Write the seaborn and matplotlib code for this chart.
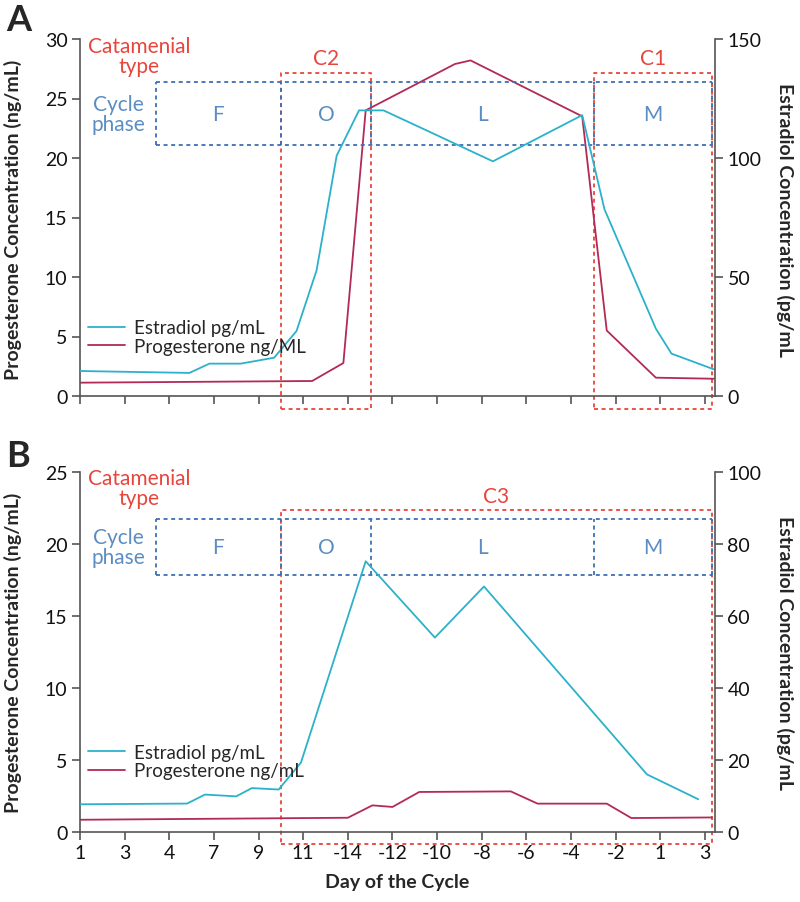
import matplotlib
matplotlib.use("Agg")
import matplotlib.pyplot as plt
import seaborn as sns

# Style
sns.set_style("ticks")
plt.rcParams['font.family'] = ['Lato', 'DejaVu Sans']

# ---- data (x = position along the cycle in days, 0 = day 1) ----
tick_pos = list(range(0, 29, 2))
tick_labels_b = ['1', '3', '4', '7', '9', '11', '-14', '-12', '-10', '-8', '-6', '-4', '-2', '1', '3']

# Panel A
a_estr_x = [0, 4.9, 5.8, 7.2, 8.7, 9.7, 10.6, 11.5, 12.5, 13.6, 18.5, 22.5, 23.5, 25.8, 26.5, 28.4]
a_estr_y = [10.5, 9.7, 13.6, 13.6, 16.1, 27.3, 52.8, 101, 120, 120, 98.6, 118, 78.4, 28.3, 17.8, 11.2]
a_prog_x = [0, 10.4, 11.8, 12.8, 16.8, 17.5, 22.5, 23.6, 25.8, 28.4]
a_prog_y = [1.12, 1.26, 2.77, 24.0, 27.9, 28.2, 23.5, 5.5, 1.54, 1.45]

# Panel B
b_estr_x = [0, 4.8, 5.6, 7.0, 7.7, 8.9, 9.9, 12.8, 15.9, 18.1, 25.4, 27.7]
b_estr_y = [7.7, 7.9, 10.4, 9.9, 12.2, 11.8, 19.3, 75.2, 54.0, 68.2, 16.0, 9.1]
b_prog_x = [0, 12.0, 13.1, 14.0, 15.2, 19.3, 20.5, 23.6, 24.7, 28.3]
b_prog_y = [0.85, 0.99, 1.85, 1.74, 2.78, 2.82, 1.97, 1.97, 0.97, 1.01]

# Cycle phases (boundaries in days)
phase_names = ['F', 'O', 'L', 'M']
phase_edges = [3.4, 9.0, 13.05, 23.05, 28.3]

CYAN = '#2cb1cb'
MAGENTA = '#b22a55'
RED = '#e8453c'
BLUE = '#3d6fb3'
BLUE_TXT = '#5b8dc2'
AXC = '#555555'

fig = plt.figure(figsize=(8, 9.03), dpi=100)
XMAX = 28.45


def draw_panel(rect, ex, ey, px, py, pmax, emax, ptick, etick, prog_label,
               box_y, cat_boxes, cat_y, leg_y, tick_labels):
    ax = fig.add_axes(rect)
    ax2 = ax.twinx()

    sns.lineplot(x=px, y=py, ax=ax, color=MAGENTA, lw=1.3, sort=False, label=prog_label, legend=False)
    sns.lineplot(x=ex, y=ey, ax=ax2, color=CYAN, lw=1.3, sort=False, label='Estradiol pg/mL', legend=False)

    ax.set_xlim(0, XMAX)
    ax.set_ylim(0, pmax)
    ax2.set_ylim(0, emax)
    ax.set_yticks(ptick)
    ax2.set_yticks(etick)
    ax.set_xticks(tick_pos)
    if tick_labels is None:
        ax.set_xticklabels([])
    else:
        ax.set_xticklabels(tick_labels)
    ax.set_xlabel('')
    ax.set_ylabel('')
    ax2.set_ylabel('')

    for a in (ax, ax2):
        a.spines['top'].set_visible(False)
        for s in a.spines.values():
            s.set_color(AXC)
            s.set_linewidth(1.2)
        a.tick_params(direction='out', length=6, width=1.2, color=AXC,
                      labelsize=14, labelcolor='#111111', pad=3)
    ax2.spines['left'].set_visible(False)
    ax2.spines['bottom'].set_visible(False)
    ax.spines['right'].set_visible(False)

    # cycle phase boxes (blue dotted)
    y0, y1 = box_y
    dash = (0, (2.2, 2.0))
    ax.plot([phase_edges[0], phase_edges[-1]], [y1, y1], color=BLUE, lw=1.3, ls=dash, clip_on=False)
    ax.plot([phase_edges[0], phase_edges[-1]], [y0, y0], color=BLUE, lw=1.3, ls=dash, clip_on=False)
    for e in phase_edges:
        ax.plot([e, e], [y0, y1], color=BLUE, lw=1.3, ls=dash, clip_on=False)
    for i, name in enumerate(phase_names):
        xc = (phase_edges[i] + phase_edges[i + 1]) / 2
        ax.text(xc, (y0 + y1) / 2, name, color=BLUE_TXT, fontsize=15, ha='center', va='center')

    # catamenial boxes (red dotted)
    for (cx0, cx1, cy0, cy1, lab) in cat_boxes:
        ax.plot([cx0, cx1, cx1, cx0, cx0], [cy0, cy0, cy1, cy1, cy0], color=RED, lw=1.3,
                ls=dash, clip_on=False, zorder=1)
        ax.text((cx0 + cx1) / 2, cy1 + pmax * 0.04, lab, color=RED, fontsize=15,
                ha='center', va='center')

    ax.text(2.65, cat_y, 'Catamenial\ntype', color=RED, fontsize=15, ha='center', va='center',
            linespacing=1.0)
    ax.text(1.7, (y0 + y1) / 2, 'Cycle\nphase', color=BLUE_TXT, fontsize=15, ha='center', va='center',
            linespacing=1.0)

    # legend
    h1, l1 = ax2.get_legend_handles_labels()
    h2, l2 = ax.get_legend_handles_labels()
    ax2.legend(h1 + h2, l1 + l2, loc='center left', bbox_to_anchor=(0.0, leg_y),
               frameon=False, fontsize=13.5, handlelength=2.0, handletextpad=0.5,
               labelspacing=0.1, borderaxespad=0.0, borderpad=0.4)
    ax2.set_zorder(ax.get_zorder() + 1)
    ax.patch.set_visible(False)
    return ax, ax2


# Panel A
axA, axA2 = draw_panel([0.1, 1 - 397 / 903, 635 / 800, 357 / 903],
                       a_estr_x, a_estr_y, a_prog_x, a_prog_y,
                       30, 150, [0, 5, 10, 15, 20, 25, 30], [0, 50, 100, 150],
                       'Progesterone ng/ML',
                       (21.06, 26.39),
                       [(9.0, 13.05, -1.13, 27.17, 'C2'), (23.05, 28.3, -1.13, 27.17, 'C1')],
                       28.55, 0.165, None)

# Panel B
axB, axB2 = draw_panel([0.1, 1 - 833 / 903, 635 / 800, 360 / 903],
                       b_estr_x, b_estr_y, b_prog_x, b_prog_y,
                       25, 100, [0, 5, 10, 15, 20, 25], [0, 20, 40, 60, 80, 100],
                       'Progesterone ng/mL',
                       (17.82, 21.76),
                       [(9.0, 28.3, -0.81, 22.33, 'C3')],
                       23.87, 0.196, tick_labels_b)

# axis titles
for yc in (220 / 903, 653 / 903):
    fig.text(13 / 800, 1 - yc, 'Progesterone Concentration (ng/mL)', rotation=90,
             ha='center', va='center', fontsize=14, fontweight='bold')
    fig.text(785 / 800, 1 - yc, 'Estradiol Concentration (pg/mL', rotation=270,
             ha='center', va='center', fontsize=14, fontweight='bold')

fig.text(397.5 / 800, 1 - 883 / 903, 'Day of the Cycle', ha='center', va='center',
         fontsize=14, fontweight='bold')

fig.text(6 / 800, 1 - 4 / 903, 'A', ha='left', va='top', fontsize=26, fontweight='bold')
fig.text(6 / 800, 1 - 440 / 903, 'B', ha='left', va='top', fontsize=26, fontweight='bold')

fig.savefig('out.png', dpi=100)
